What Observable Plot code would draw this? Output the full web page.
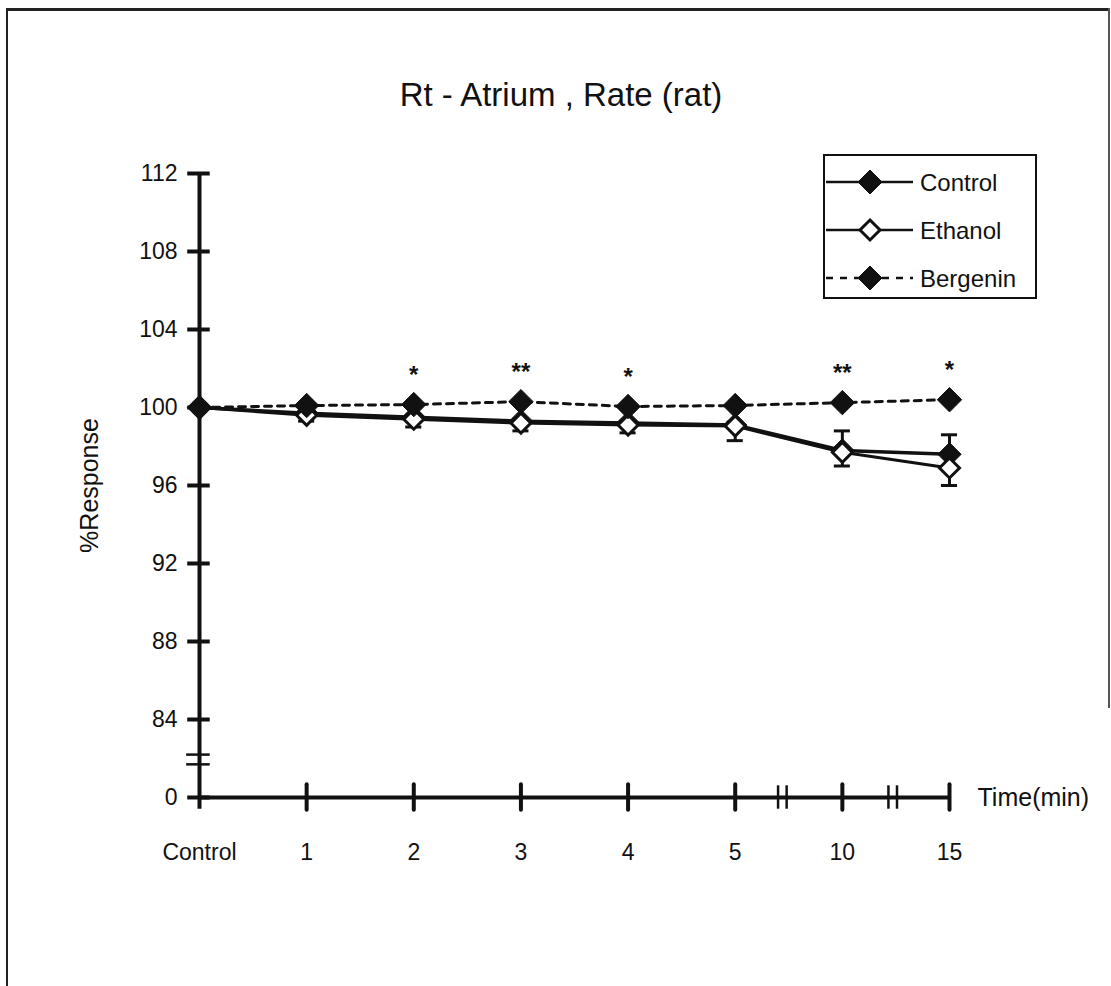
<!DOCTYPE html>
<html>
<head>
<meta charset="utf-8">
<script src="https://cdn.jsdelivr.net/npm/d3@7"></script>
<script src="https://cdn.jsdelivr.net/npm/@observablehq/plot@0.6"></script>
<style>
  html, body { margin: 0; padding: 0; background: #fff; }
  #wrap { position: relative; width: 1111px; height: 986px; overflow: hidden; font-family: "Liberation Sans", Arial, sans-serif; }
  #frame { position: absolute; left: 6px; top: 8px; width: 1102px; height: 1000px; border-left: 2px solid #222; border-top: 3px solid #222; }
  #rframe { position: absolute; left: 1108px; top: 8px; width: 2px; height: 700px; background: #555; }
  #title { position: absolute; left: 0; width: 1122px; top: 76px; text-align: center; font-size: 33px; color: #111; }
  #legend { position: absolute; left: 823px; top: 154px; }
  #chart { position: absolute; left: 0; top: 0; }
</style>
</head>
<body>
<div id="wrap">
  <div id="frame"></div>
  <div id="rframe"></div>
  <div id="chart"></div>
  <div id="title">Rt - Atrium , Rate (rat)</div>
  <div id="legend"></div>
</div>
<script>
// ---- data ----
const categories = ["Control", "1", "2", "3", "4", "5", "10", "15"];
const control     = [100, 99.7, 99.5, 99.3, 99.2, 99.1, 97.8, 97.6];
const controlSem  = [0, 0.1, 0.1, 0.1, 0.1, 0.15, 1.0, 1.0];
const ethanol     = [100, 99.6, 99.4, 99.2, 99.1, 99.05, 97.7, 96.9];
const ethanolSem  = [0, 0.3, 0.4, 0.4, 0.4, 0.75, 0.7, 0.9];
const bergenin    = [100, 100.1, 100.15, 100.3, 100.05, 100.1, 100.25, 100.4];
const bergeninSem = [0, 0.05, 0.05, 0.05, 0.05, 0.05, 0.05, 0.15];
const significance = ["", "", "*", "**", "*", "", "**", "*"];
const yTicks = [80, 84, 88, 92, 96, 100, 104, 108, 112];
const yTickLabels = ["0", "84", "88", "92", "96", "100", "104", "108", "112"];
const seriesNames = ["Control", "Ethanol", "Bergenin"];

// ---- build rows ----
const idx = categories.map((_, i) => i);
const mk = (name, vals, sems) => vals.map((v, i) => ({series: name, i, v, sem: sems[i]}));
const cRows = mk("Control", control, controlSem);
const eRows = mk("Ethanol", ethanol, ethanolSem);
const bRows = mk("Bergenin", bergenin, bergeninSem);
const sigRows = idx.filter(i => significance[i]).map(i => ({i, v: bergenin[i] + 1.5, s: significance[i]}));

const yBreak = [82.2, 81.7];
const xBreak = [5.40, 5.48, 6.43, 6.51];
const capW = 0.075;

const font = "Liberation Sans, Arial, sans-serif";

const plot = Plot.plot({
  width: 1111,
  height: 986,
  marginLeft: 199,
  marginRight: 162,
  marginTop: 173,
  marginBottom: 189,
  style: {fontFamily: font, fontSize: "23px", color: "#111", background: "transparent"},
  x: {type: "linear", domain: [0, categories.length - 1]},
  y: {type: "linear", domain: [80, 112]},
  marks: [
    // axes
    Plot.axisY({ticks: yTicks, tickFormat: (d) => yTickLabels[yTicks.indexOf(d)], tickSize: 0, tickPadding: 22, label: null, fontSize: 23}),
    Plot.axisX({ticks: idx, tickFormat: (d) => categories[d], tickSize: 0, tickPadding: 46, label: null, fontSize: 23}),
    Plot.text(["%Response"], {frameAnchor: "left", dx: -110, rotate: -90, fontSize: 25, textAnchor: "middle"}),
    Plot.text(["Time(min)"], {x: categories.length - 1, y: 80, dx: 28, textAnchor: "start", fontSize: 25}),
    Plot.ruleX([0], {y1: 79.4, y2: 112, stroke: "#111", strokeWidth: 4}),
    Plot.ruleY([80], {x1: 0, x2: categories.length - 1, stroke: "#111", strokeWidth: 4}),
    Plot.ruleY(yTicks, {x1: -0.11, x2: 0.1, stroke: "#111", strokeWidth: 4}),
    Plot.ruleX(idx.slice(1), {y1: 79.35, y2: 80.65, stroke: "#111", strokeWidth: 4, strokeLinecap: "round"}),
    Plot.ruleY(yBreak, {x1: -0.12, x2: 0.1, stroke: "#111", strokeWidth: 2.5}),
    Plot.ruleX(xBreak, {y1: 79.4, y2: 80.6, stroke: "#111", strokeWidth: 2.5}),
    // error bars: control upward, ethanol downward
    Plot.ruleX(cRows.filter(d => d.sem), {x: "i", y1: "v", y2: d => d.v + d.sem, stroke: "#111", strokeWidth: 3}),
    Plot.ruleY(cRows.filter(d => d.sem), {y: d => d.v + d.sem, x1: d => d.i - capW, x2: d => d.i + capW, stroke: "#111", strokeWidth: 3}),
    Plot.ruleX(eRows.filter(d => d.sem), {x: "i", y1: "v", y2: d => d.v - d.sem, stroke: "#111", strokeWidth: 3}),
    Plot.ruleY(eRows.filter(d => d.sem), {y: d => d.v - d.sem, x1: d => d.i - capW, x2: d => d.i + capW, stroke: "#111", strokeWidth: 3}),
    Plot.ruleX(bRows.filter(d => d.sem > 0.1), {x: "i", y1: d => d.v - d.sem, y2: d => d.v + d.sem, stroke: "#111", strokeWidth: 3}),
    // lines
    Plot.line(eRows, {x: "i", y: "v", stroke: "#111", strokeWidth: 3}),
    Plot.line(cRows, {x: "i", y: "v", stroke: "#111", strokeWidth: 3.5}),
    Plot.line(bRows, {x: "i", y: "v", stroke: "#111", strokeWidth: 3, strokeDasharray: "7,6"}),
    // markers
    Plot.dot(cRows, {x: "i", y: "v", symbol: "diamond2", r: 10.5, fill: "#111", stroke: "#111", strokeWidth: 1}),
    Plot.dot(eRows, {x: "i", y: "v", symbol: "diamond2", r: 9, fill: "white", stroke: "#111", strokeWidth: 3}),
    Plot.dot(bRows, {x: "i", y: "v", symbol: "diamond2", r: 11, fill: "#111", stroke: "#111", strokeWidth: 1}),
    // significance
    Plot.text(sigRows, {x: "i", y: "v", text: "s", fontSize: 24, fontWeight: "bold"})
  ]
});
document.getElementById("chart").appendChild(plot);

// ---- legend ----
const legendStyles = {
  Control:  {fill: "#111", dash: null, sw: 1},
  Ethanol:  {fill: "white", dash: null, sw: 3},
  Bergenin: {fill: "#111", dash: "7,7", sw: 1}
};
const lw = 212, lh = 143;
const svg = d3.create("svg").attr("width", lw + 4).attr("height", lh + 4);
svg.append("rect").attr("x", 1).attr("y", 1).attr("width", lw).attr("height", lh)
  .attr("fill", "white").attr("stroke", "#111").attr("stroke-width", 2);
seriesNames.forEach((name, k) => {
  const cy = 28 + k * 48;
  const st = legendStyles[name];
  svg.append("line").attr("x1", 3).attr("x2", 90).attr("y1", cy).attr("y2", cy)
    .attr("stroke", "#111").attr("stroke-width", 2.5).attr("stroke-dasharray", st.dash);
  const r = name === "Ethanol" ? 10 : 12;
  svg.append("path").attr("d", `M47,${cy - r} L${47 + r},${cy} L47,${cy + r} L${47 - r},${cy} Z`)
    .attr("fill", st.fill).attr("stroke", "#111").attr("stroke-width", st.sw);
  svg.append("text").attr("x", 97).attr("y", cy).attr("dy", "0.36em")
    .attr("font-family", font).attr("font-size", 24).attr("fill", "#111").text(name);
});
document.getElementById("legend").appendChild(svg.node());
</script>
</body>
</html>
